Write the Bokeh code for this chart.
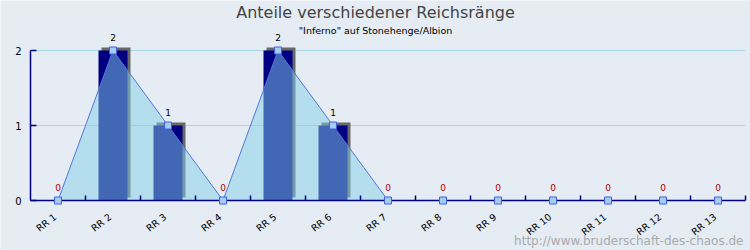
from bokeh.plotting import figure
from bokeh.models import Range1d, ColumnDataSource
from bokeh.core.properties import value
from bokeh.embed import file_html
from bokeh.resources import INLINE
import math

# ---- data ----
categories = ["RR 1", "RR 2", "RR 3", "RR 4", "RR 5", "RR 6", "RR 7",
              "RR 8", "RR 9", "RR 10", "RR 11", "RR 12", "RR 13"]
counts = [0, 2, 1, 0, 2, 1, 0, 0, 0, 0, 0, 0, 0]
y_ticks = [0, 1, 2]
title_text = "Anteile verschiedener Reichsränge"
subtitle_text = "\"Inferno\" auf Stonehenge/Albion"
watermark = "http://www.bruderschaft-des-chaos.de"

# ---- geometry (pixel scale helpers) ----
W, H = 750, 250
X0, PX_PER_CAT = 30, 55          # left edge of plot area, px per category
Y0, PX_PER_UNIT = 200, 75        # baseline px, px per value unit
dx = 1.0 / PX_PER_CAT            # one pixel in x data units
dy = 1.0 / PX_PER_UNIT           # one pixel in y data units

BG = "#e5ecf3"
NAVY = "#000080"
FONT = value("DejaVu Sans")

p = figure(width=W, height=H, output_backend="svg", toolbar_location=None,
           x_range=Range1d(-X0 * dx, (W - X0) * dx),
           y_range=Range1d(-(H - Y0) * dy, Y0 * dy),
           x_axis_type=None, y_axis_type=None, min_border=0,
           background_fill_color=BG, border_fill_color=BG,
           outline_line_color=None)
p.grid.visible = False

n = len(categories)
xs = [i + 0.5 for i in range(n)]
x_end = n

# gridlines
for t in y_ticks:
    if t > 0:
        p.segment(x0=0, y0=t, x1=x_end, y1=t, line_color="#a8d8e8", line_width=1)

# bars with shadow
bw = 29 * dx
p.vbar(x=[x + 3 * dx for x in xs], top=[c + 3 * dy if c > 0 else 0 for c in counts],
       bottom=[3 * dy if c > 0 else 0 for c in counts], width=bw, fill_color="#686868", line_color=None)
p.vbar(x=xs, top=counts, bottom=0, width=bw, fill_color=NAVY, line_color=None)

# area
p.varea(x=xs, y1=[0] * n, y2=counts, fill_color="#83cee7", fill_alpha=0.5)
p.line(x=xs, y=counts, line_color="#5577dd", line_width=1)

# axes
p.segment(x0=0, y0=0, x1=0, y1=max(y_ticks), line_color=NAVY, line_width=1.5)
p.segment(x0=0, y0=0, x1=x_end, y1=0, line_color=NAVY, line_width=1.5)
p.segment(x0=[0] * len(y_ticks), y0=y_ticks, x1=[6 * dx] * len(y_ticks), y1=y_ticks,
          line_color=NAVY, line_width=1.5)
bx = list(range(1, n + 1))
p.segment(x0=bx, y0=[0] * n, x1=bx, y1=[5 * dy] * n, line_color=NAVY, line_width=1.5)

# markers
p.scatter(x=xs, y=counts, marker="square", size=7, fill_color="#a4cbf2",
          line_color="#4060e0", line_width=1)

# value labels
src = ColumnDataSource(dict(x=xs, y=[c + 13 * dy for c in counts],
                            t=[str(c) for c in counts],
                            col=["#aa0000" if c == 0 else "#000000" for c in counts]))
p.text(x="x", y="y", text="t", source=src, text_color="col", text_font=FONT,
       text_font_size="9px", text_align="center", text_baseline="middle")

# y tick labels
p.text(x=[-12 * dx] * len(y_ticks), y=y_ticks, text=[str(t) for t in y_ticks],
       text_font=FONT, text_font_size="10px", text_align="center",
       text_baseline="middle", text_color="#000000")

# x tick labels
p.text(x=[x - 3 * dx for x in xs], y=[-15 * dy] * n, text=categories, angle=math.radians(38),
       text_font=FONT, text_font_size="9.5px", text_align="right",
       text_baseline="middle", text_color="#000000")

# titles
ymap = lambda px: (Y0 - px) * dy
xmap = lambda px: (px - X0) * dx
p.text(x=[xmap(375)], y=[ymap(12)], text=[title_text], text_font=FONT,
       text_font_size="16px", text_align="center", text_baseline="middle", text_color="#444444")
p.text(x=[xmap(375)], y=[ymap(30)], text=[subtitle_text], text_font=FONT,
       text_font_size="9.5px", text_align="center", text_baseline="middle", text_color="#000000")
p.text(x=[xmap(743)], y=[ymap(240)], text=[watermark], text_font=FONT,
       text_font_size="12px", text_align="right", text_baseline="middle", text_color="#aaaaaa")

open("out.html", "w").write(file_html(p, INLINE))
